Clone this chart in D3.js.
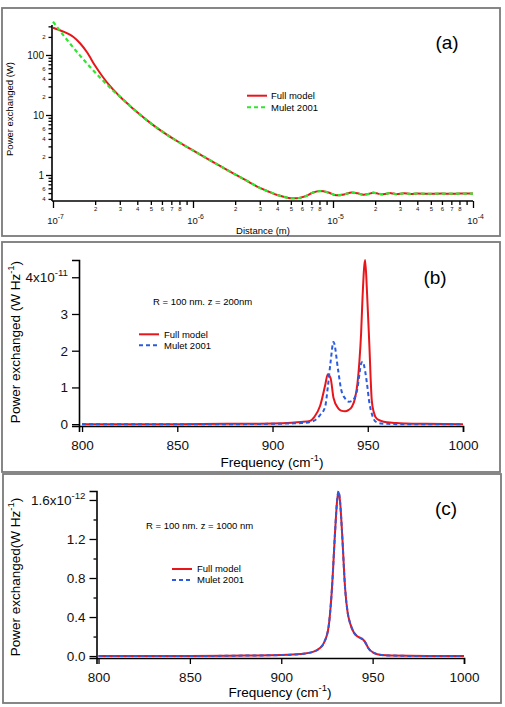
<!DOCTYPE html>
<html><head><meta charset="utf-8">
<script src="https://cdn.jsdelivr.net/npm/d3@7"></script>
<style>html,body{margin:0;padding:0;background:#fff}svg{display:block;font-family:"Liberation Sans",Arial,Helvetica,sans-serif}</style>
</head><body><svg id="c" width="505" height="707"></svg>
<script>
// ---------- Panel (a) data: distance (m) vs power (W) ----------
const distA  = [1e-7,1.1e-7,1.2e-7,1.3e-7,1.4e-7,1.56e-7,1.75e-7,2e-7,2.25e-7,2.55e-7,2.75e-7,3e-7,3.5e-7,4e-7,5e-7,6.5e-7,8e-7,1e-6,1.2e-6,1.5e-6,2e-6,2.5e-6,3e-6,3.5e-6,4e-6,4.5e-6,5e-6,5.5e-6,6.3e-6,7.2e-6,8.1e-6,9.3e-6,1.06e-5,1.2e-5,1.36e-5,1.5e-5,1.65e-5,1.8e-5,1.94e-5,2.1e-5,2.23e-5,2.4e-5,2.55e-5,2.7e-5,2.85e-5,3.2e-5,3.6e-5,4e-5,5e-5,6e-5,7e-5,8e-5,1e-4];
const fullA  = [285,263,243,222,199,157,111,66,44.2,30.4,25.2,20.4,14.6,11.1,7.26,4.71,3.48,2.57,2.01,1.49,1.02,0.77,0.61,0.525,0.465,0.43,0.41,0.41,0.44,0.51,0.54,0.51,0.46,0.475,0.51,0.495,0.47,0.485,0.507,0.49,0.476,0.488,0.50,0.49,0.48,0.495,0.485,0.492,0.487,0.491,0.488,0.49,0.49];
const muletA = [360,268,206,163,132,97.6,71.8,51,38.4,28.7,24.2,20.4,14.6,11.1,7.26,4.71,3.48,2.57,2.01,1.49,1.02,0.77,0.61,0.525,0.465,0.43,0.41,0.41,0.44,0.51,0.54,0.51,0.46,0.475,0.51,0.495,0.47,0.485,0.507,0.49,0.476,0.488,0.50,0.49,0.48,0.495,0.485,0.492,0.487,0.491,0.488,0.49,0.49];

// ---------- Panel (b) data: frequency (cm-1) vs power (x1e-11 W Hz-1) ----------
const freqB   = [800,850,880,900,910,915,919.7,922,925,927.6,929,930.5,932,934.5,936,938.1,940,941.6,943.3,944.6,945.6,946.5,947.3,948.6,949.6,950.8,952.1,953.2,954.7,957,960,965,970,980,1000];
const fullB   = [0.0,0.0,0.01,0.02,0.04,0.06,0.09,0.2,0.5,1.05,1.36,1.25,0.72,0.43,0.37,0.35,0.39,0.47,0.7,1.11,1.7,2.47,3.5,4.47,3.6,2.2,0.65,0.32,0.15,0.09,0.05,0.03,0.02,0.01,0.0];
const muletB  = [0.0,0.0,0.0,0.01,0.02,0.03,0.06,0.1,0.25,0.47,1.0,1.7,2.24,1.45,0.95,0.7,0.61,0.63,0.74,0.98,1.35,1.65,1.7,1.45,1.1,0.6,0.29,0.13,0.05,0.02,0.01,0.0,0.0,0.0,0.0];

// ---------- Panel (c) data: frequency (cm-1) vs power (x1e-12 W Hz-1) ----------
const freqC   = [800,850,880,900,910.4,917.7,921,923.2,925.9,927.7,929.5,930.5,931.3,932.2,933.2,935,936.3,937.7,939.5,941.4,943.3,945,946.3,947.7,950.4,955,960,980,1000];
const fullC   = [0.0,0.0,0.005,0.01,0.02,0.045,0.08,0.13,0.30,0.68,1.29,1.58,1.685,1.58,1.29,0.68,0.45,0.335,0.25,0.205,0.185,0.165,0.13,0.08,0.035,0.01,0.005,0.0,0.0];
const muletC  = [0.0,0.0,0.005,0.01,0.02,0.045,0.08,0.13,0.30,0.68,1.29,1.58,1.69,1.58,1.29,0.68,0.45,0.335,0.25,0.205,0.185,0.165,0.13,0.08,0.035,0.01,0.005,0.0,0.0];

const seriesNames = ["Full model","Mulet 2001"];
const ticksYA = [1,10,100];
const ticksXA = [1e-7,1e-6,1e-5,1e-4];
const ticksXB = [800,850,900,950,1000];
const ticksYB = [0,1,2,3,4];
const ticksYC = [0,0.4,0.8,1.2,1.6];
const minorYC = [0.2,0.6,1.0,1.4];

const RED = "#e8161b", GREEN = "#2ee62e", BLUE = "#2a5be0";
const svg = d3.select("#c");

function frame(x,y,w,h){
  svg.append("rect").attr("x",x).attr("y",y).attr("width",w).attr("height",h)
    .attr("fill","none").attr("stroke","#7a7a7a").attr("stroke-width",1.8);
}
frame(2,8,498,228);
frame(2,242,498,230);
frame(3,474,498,229);

function styleAxis(g, fs){
  g.selectAll("path.domain").attr("stroke","#000").attr("stroke-width",1.6);
  g.selectAll(".tick line").attr("stroke","#000").attr("stroke-width",1.3);
  g.selectAll("text").attr("font-family","Liberation Sans, Arial, sans-serif").attr("font-size",fs).attr("fill","#111");
}
function supLabel(sel, base, sup, fs){
  sel.text(null);
  sel.append("tspan").text(base);
  sel.append("tspan").text(sup).attr("font-size",fs*0.72).attr("dy",-fs*0.45);
}

// ================= Panel (a) =================
{
  const x = d3.scaleLog().domain([1e-7,1e-4]).range([53,473]);
  const y = d3.scaleLog().domain([0.369,316]).range([201,25]);
  const g = svg.append("g");
  const minorX = [];
  for (let e=-7;e<-4;e++) for (let m=2;m<=9;m++) minorX.push(m*Math.pow(10,e));
  const gxm = g.append("g").attr("transform","translate(0,201)")
    .call(d3.axisBottom(x).tickValues(minorX).tickSize(4).tickPadding(2)
      .tickFormat(d=>{const m=Math.round(d/Math.pow(10,Math.floor(Math.log10(d)+1e-9)));return m===9?"":String(m);}));
  styleAxis(gxm,6);
  gxm.select("path.domain").attr("d","M52,0H473");
  const gxM = g.append("g").attr("transform","translate(0,201)")
    .call(d3.axisBottom(x).tickValues(ticksXA).tickSize(7).tickPadding(9).tickFormat(()=>""));
  styleAxis(gxM,9.5);
  gxM.select("path.domain").remove();
  gxM.selectAll(".tick text").each(function(d){
    supLabel(d3.select(this),"10",String(Math.round(Math.log10(d))),9.5);
  }).attr("dx",2);
  const minorY = [];
  for (let e=-1;e<3;e++) for (let m=2;m<=9;m++){const v=m*Math.pow(10,e); if(v>=0.37&&v<=316) minorY.push(v);}
  const gym = g.append("g").attr("transform","translate(52,0)")
    .call(d3.axisLeft(y).tickValues(minorY).tickSize(3.5).tickPadding(3)
      .tickFormat(d=>{const m=Math.round(d/Math.pow(10,Math.floor(Math.log10(d)+1e-9)));return [2,4,6].includes(m)?String(m):"";}));
  styleAxis(gym,6);
  gym.select("path.domain").attr("d","M0,201V25");
  const gyM = g.append("g").attr("transform","translate(52,0)")
    .call(d3.axisLeft(y).tickValues(ticksYA).tickSize(6).tickPadding(2).tickFormat(d3.format("d")));
  styleAxis(gyM,10);
  gyM.select("path.domain").remove();

  const line = (xs,ys)=>d3.line().x((d,i)=>x(xs[i])).y(d=>y(d)).curve(d3.curveMonotoneX)(ys);
  g.append("path").attr("d",line(distA,fullA)).attr("fill","none").attr("stroke",RED).attr("stroke-width",2);
  g.append("path").attr("d",line(distA,muletA)).attr("fill","none").attr("stroke",GREEN).attr("stroke-width",2.2).attr("stroke-dasharray","4,3");

  g.append("text").attr("x",263).attr("y",234).attr("text-anchor","middle").attr("font-size",9.5).text("Distance (m)");
  g.append("text").attr("transform","translate(13,109) rotate(-90)").attr("text-anchor","middle").attr("font-size",9.5).text("Power exchanged (W)");
  g.append("text").attr("x",447).attr("y",49).attr("text-anchor","middle").attr("font-size",19).text("(a)");
  seriesNames.forEach((n,i)=>{
    const yy = 95.7 + i*11.6;
    g.append("line").attr("x1",247).attr("x2",267).attr("y1",yy).attr("y2",yy)
      .attr("stroke",i?GREEN:RED).attr("stroke-width",2).attr("stroke-dasharray",i?"4,3":null);
    g.append("text").attr("x",271).attr("y",yy+3.3).attr("font-size",9.5).text(n);
  });
}

// ================= Panels (b) and (c) =================
function freqPanel(opt){
  const x = d3.scaleLinear().domain(opt.xd).range(opt.xr);
  const y = d3.scaleLinear().domain(opt.yd).range(opt.yr);
  const g = svg.append("g");
  const gx = g.append("g").attr("transform",`translate(0,${opt.yr[0]})`)
    .call(d3.axisBottom(x).tickValues(ticksXB).tickSize(6).tickPadding(8).tickFormat(d3.format("d")));
  styleAxis(gx,13.5);
  if (opt.minorY){
    const gmy = g.append("g").attr("transform",`translate(${opt.xr[0]},0)`)
      .call(d3.axisLeft(y).tickValues(opt.minorY).tickSize(3).tickFormat(()=>""));
    styleAxis(gmy,12);
    gmy.select("path.domain").remove();
  }
  const gy = g.append("g").attr("transform",`translate(${opt.xr[0]},0)`)
    .call(d3.axisLeft(y).tickValues(opt.yTicks).tickSize(7).tickPadding(4).tickFormat(opt.fmt));
  styleAxis(gy,13.5);
  gy.selectAll(".tick text").filter(d=>d===opt.yTicks[opt.yTicks.length-1]).each(function(d){
    supLabel(d3.select(this),opt.fmt(d)+"x10",opt.expo,13.5);
  });
  const line = (ys)=>d3.line().x((d,i)=>x(opt.xs[i])).y(d=>y(d)).curve(d3.curveMonotoneX)(ys);
  g.append("path").attr("d",line(opt.full)).attr("fill","none").attr("stroke",RED).attr("stroke-width",2);
  g.append("path").attr("d",line(opt.mulet)).attr("fill","none").attr("stroke",BLUE).attr("stroke-width",2).attr("stroke-dasharray","4,3");

  const xl = g.append("text").attr("x",opt.xlab[0]).attr("y",opt.xlab[1]).attr("text-anchor","middle").attr("font-size",13.5);
  xl.append("tspan").text("Frequency (cm");
  xl.append("tspan").text("-1").attr("font-size",9.5).attr("dy",-6);
  xl.append("tspan").text(")").attr("dy",6);
  const yl = g.append("text").attr("transform",`translate(${opt.ylab[0]},${opt.ylab[1]}) rotate(-90)`).attr("text-anchor","middle").attr("font-size",13.5);
  yl.append("tspan").text(opt.ytext);
  yl.append("tspan").text("-1").attr("font-size",9.5).attr("dy",-6);
  yl.append("tspan").text(")").attr("dy",6);
  g.append("text").attr("x",opt.tag[0]).attr("y",opt.tag[1]).attr("text-anchor","middle").attr("font-size",19).text(opt.tagText);
  g.append("text").attr("x",opt.note[0]).attr("y",opt.note[1]).attr("font-size",9.5).text(opt.noteText);
  seriesNames.forEach((n,i)=>{
    const yy = opt.leg[1] + i*11;
    g.append("line").attr("x1",opt.leg[0]).attr("x2",opt.leg[0]+20).attr("y1",yy).attr("y2",yy)
      .attr("stroke",i?BLUE:RED).attr("stroke-width",2).attr("stroke-dasharray",i?"4,3":null);
    g.append("text").attr("x",opt.leg[0]+25).attr("y",yy+3.3).attr("font-size",9.5).text(n);
  });
}

freqPanel({xd:[798.4,1000], xr:[79,463], yd:[-0.05,4.47], yr:[426,260],
  xs:freqB, full:fullB, mulet:muletB, yTicks:ticksYB, fmt:d3.format("d"), expo:"-11",
  xlab:[272,467], ylab:[20,342], ytext:"Power exchanged (W Hz", tag:[435,284], tagText:"(b)",
  note:[153,305], noteText:"R = 100 nm. z = 200nm", leg:[139,334.3]});

freqPanel({xd:[798.9,1000], xr:[96.5,464], yd:[-0.02,1.692], yr:[658,491],
  xs:freqC, full:fullC, mulet:muletC, yTicks:ticksYC, fmt:d3.format(".1f"), expo:"-12", minorY:minorYC,
  xlab:[280,697], ylab:[20,577], ytext:"Power exchanged(W Hz", tag:[446,515], tagText:"(c)",
  note:[146,529], noteText:"R = 100 nm. z = 1000 nm", leg:[172,569]});
</script></body></html>
